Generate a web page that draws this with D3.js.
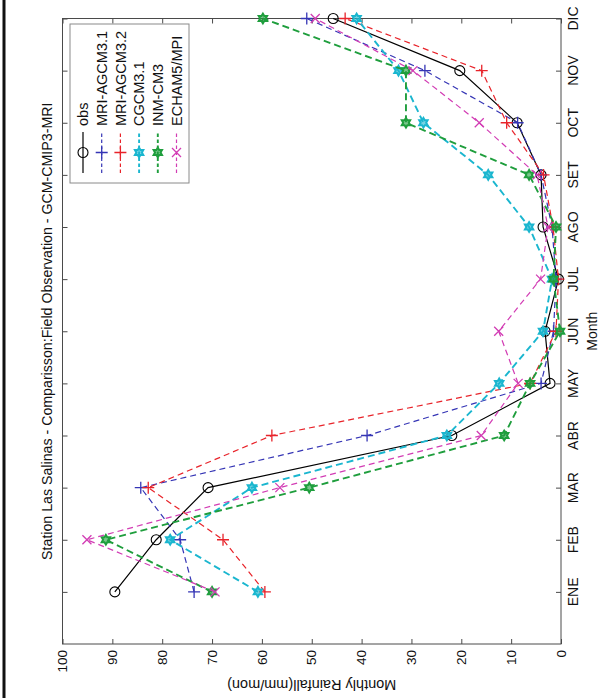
<!DOCTYPE html>
<html>
<head>
<meta charset="utf-8">
<script src="https://cdn.jsdelivr.net/npm/d3@7/dist/d3.min.js"></script>
<style>
  html, body { margin: 0; padding: 0; background: #fff; }
  svg { display: block; font-family: "Liberation Sans", Arial, sans-serif; }
</style>
</head>
<body>
<svg id="chart" width="600" height="698"></svg>
<script>
// Monthly rainfall, Las Salinas: observation vs. CMIP3 / MRI GCM runs (mm/mon)
const months = ["ENE", "FEB", "MAR", "ABR", "MAY", "JUN", "JUL", "AGO", "SET", "OCT", "NOV", "DIC"];
const obs      = [89.5, 81.2, 70.8, 21.9, 2.2, 3.2, 0.5, 3.6, 4.0, 8.8, 20.3, 45.7];
const mriAgcm31 = [73.6, 76.4, 84.3, 38.9, 4.0, 1.5, 1.0, 1.8, 4.0, 8.7, 27.3, 51.0];
const mriAgcm32 = [59.4, 67.8, 82.8, 58.0, 6.2, 1.0, 0.5, 1.6, 3.5, 10.9, 15.9, 43.3];
const cgcm31   = [60.8, 78.4, 62.0, 22.9, 12.4, 3.6, 1.8, 6.4, 14.6, 27.6, 32.6, 41.0];
const inmCm3   = [70.0, 91.3, 50.5, 11.4, 6.2, 0.2, 1.5, 1.0, 6.4, 31.1, 31.1, 59.8];
const echam5   = [69.4, 95.1, 56.4, 16.0, 8.6, 12.5, 4.1, 2.6, 4.8, 16.4, 29.7, 49.3];
const valueTicks = [0, 10, 20, 30, 40, 50, 60, 70, 80, 90, 100];

const seriesNames = ["obs", "MRI-AGCM3.1", "MRI-AGCM3.2", "CGCM3.1", "INM-CM3", "ECHAM5/MPI"];
const seriesValues = [obs, mriAgcm31, mriAgcm32, cgcm31, inmCm3, echam5];

const styles = [
  { color: "#000000", dash: null,  width: 1.2, marker: "circle" },
  { color: "#3535b5", dash: "6,4", width: 1.2, marker: "plus" },
  { color: "#e8232a", dash: "6,4", width: 1.2, marker: "plus" },
  { color: "#1ab6cf", dash: "7,4", width: 1.9, marker: "hexagram" },
  { color: "#1f9e3d", dash: "7,4", width: 1.9, marker: "hexagram" },
  { color: "#d23cb4", dash: "6,4", width: 1.2, marker: "cross" }
];

const svg = d3.select("#chart");

// The figure is laid out sideways: rainfall runs right-to-left along the bottom,
// months run bottom-to-top along the right edge.
const frame = { left: 62.5, right: 561, top: 18.5, bottom: 644 };
const v = d3.scaleLinear().domain([0, 100]).range([frame.right, frame.left]);
const m = d3.scaleLinear().domain([0, 12]).range([frame.bottom, frame.top]);

// page border strip on the left
svg.append("line").attr("x1", 4).attr("x2", 4).attr("y1", 0).attr("y2", 698)
  .attr("stroke", "#111").attr("stroke-width", 3);

const axisColor = "#4a4a4a";
const tickLen = 5;

// bottom axis (rainfall) with inward ticks, plus mirrored ticks on top
svg.append("g").attr("transform", `translate(0,${frame.bottom})`)
  .call(d3.axisTop(v).tickValues(valueTicks).tickSize(tickLen).tickFormat(""))
  .call(g => g.select(".domain").remove())
  .selectAll("line").attr("stroke", axisColor);
svg.append("g").attr("transform", `translate(0,${frame.top})`)
  .call(d3.axisBottom(v).tickValues(valueTicks).tickSize(tickLen).tickFormat(""))
  .call(g => g.select(".domain").remove())
  .selectAll("line").attr("stroke", axisColor);

// right axis (months) with inward ticks, plus mirrored ticks on the left
const monthIdx = d3.range(1, 13);
svg.append("g").attr("transform", `translate(${frame.right},0)`)
  .call(d3.axisLeft(m).tickValues(monthIdx).tickSize(tickLen).tickFormat(""))
  .call(g => g.select(".domain").remove())
  .selectAll("line").attr("stroke", axisColor);
svg.append("g").attr("transform", `translate(${frame.left},0)`)
  .call(d3.axisRight(m).tickValues(monthIdx).tickSize(tickLen).tickFormat(""))
  .call(g => g.select(".domain").remove())
  .selectAll("line").attr("stroke", axisColor);

// box
svg.append("rect")
  .attr("x", frame.left).attr("y", frame.top)
  .attr("width", frame.right - frame.left).attr("height", frame.bottom - frame.top)
  .attr("fill", "none").attr("stroke", axisColor).attr("stroke-width", 1);

// rainfall tick labels (rotated)
svg.append("g").selectAll("text").data(valueTicks).join("text")
  .attr("transform", d => `translate(${v(d)},${frame.bottom + 6}) rotate(-90)`)
  .attr("text-anchor", "end").attr("dy", "0.35em")
  .attr("font-size", 13.5).attr("fill", "#111")
  .text(d => d);

// month tick labels (rotated)
svg.append("g").selectAll("text").data(months).join("text")
  .attr("transform", (d, i) => `translate(${frame.right + 17},${m(i + 1)}) rotate(-90)`)
  .attr("text-anchor", "middle")
  .attr("font-size", 14).attr("fill", "#111")
  .text(d => d);

// axis titles
svg.append("text")
  .attr("transform", `translate(${frame.right + 36},${(frame.top + frame.bottom) / 2}) rotate(-90)`)
  .attr("text-anchor", "middle").attr("font-size", 14).attr("fill", "#111")
  .text("Month");
svg.append("text")
  .attr("transform", `translate(${(frame.left + frame.right) / 2},680) rotate(180)`)
  .attr("text-anchor", "middle").attr("font-size", 14.5).attr("fill", "#111")
  .text("Monthly Rainfall(mm/mon)");
svg.append("text")
  .attr("transform", `translate(52,${(frame.top + frame.bottom) / 2}) rotate(-90)`)
  .attr("text-anchor", "middle").attr("font-size", 14.2).attr("fill", "#111")
  .text("Station Las Salinas - Comparisson:Field Observation - GCM-CMIP3-MRI");

// marker shapes
function hexagramPath(R) {
  const r = R / Math.sqrt(3);
  const pts = [];
  for (let k = 0; k < 12; k++) {
    const a = Math.PI / 2 + k * Math.PI / 6;
    const rad = k % 2 === 0 ? R : r;
    pts.push([rad * Math.cos(a), rad * Math.sin(a)]);
  }
  return "M" + pts.map(p => p.join(",")).join("L") + "Z";
}
function drawMarker(g, type, color, x, y) {
  if (type === "circle") {
    g.append("circle").attr("cx", x).attr("cy", y).attr("r", 5)
      .attr("fill", "none").attr("stroke", color).attr("stroke-width", 1.1);
  } else if (type === "plus") {
    g.append("path").attr("d", `M${x - 6},${y}H${x + 6}M${x},${y - 6}V${y + 6}`)
      .attr("stroke", color).attr("stroke-width", 1.3).attr("fill", "none");
  } else if (type === "cross") {
    const a = 4.5;
    g.append("path").attr("d", `M${x - a},${y - a}L${x + a},${y + a}M${x - a},${y + a}L${x + a},${y - a}`)
      .attr("stroke", color).attr("stroke-width", 1.3).attr("fill", "none");
  } else if (type === "hexagram") {
    g.append("path").attr("d", hexagramPath(4.8))
      .attr("transform", `translate(${x},${y})`)
      .attr("stroke", color).attr("stroke-width", 2).attr("fill", color).attr("fill-opacity", 0.6);
  }
}

// series lines and markers
const line = d3.line().x(d => v(d.value)).y(d => m(d.month));
seriesValues.forEach((vals, si) => {
  const st = styles[si];
  const pts = vals.map((val, i) => ({ month: i + 1, value: val }));
  const g = svg.append("g");
  g.append("path").datum(pts).attr("d", line)
    .attr("fill", "none").attr("stroke", st.color)
    .attr("stroke-width", st.width)
    .attr("stroke-dasharray", st.dash);
  pts.forEach(p => drawMarker(g, st.marker, st.color, v(p.value), m(p.month)));
});

// legend (rotated entries)
const lg = svg.append("g");
lg.append("rect").attr("x", 70).attr("y", 24).attr("width", 119).attr("height", 159)
  .attr("fill", "#fff").attr("stroke", "#8a8a8a").attr("stroke-width", 1);
seriesNames.forEach((name, i) => {
  const st = styles[i];
  const x = 83 + 18.7 * i;
  lg.append("line").attr("x1", x).attr("x2", x).attr("y1", 173).attr("y2", 132)
    .attr("stroke", st.color).attr("stroke-width", st.width)
    .attr("stroke-dasharray", st.dash ? "3.5,2.5" : null);
  drawMarker(lg, st.marker, st.color, x, 152.5);
  lg.append("text")
    .attr("transform", `translate(${x},126) rotate(-90)`)
    .attr("dy", "0.36em").attr("font-size", 14.5).attr("fill", "#111")
    .text(name);
});
</script>
</body>
</html>
